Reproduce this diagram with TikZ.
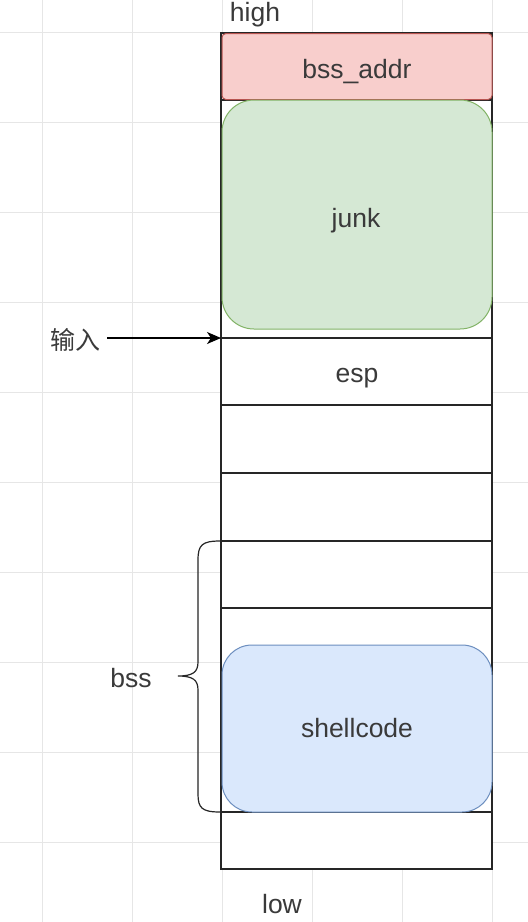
\documentclass[tikz,border=0pt]{standalone}
\usepackage{fontspec}
\setmainfont{Liberation Sans}
\newfontfamily\cjk{Noto Sans CJK SC}
\usetikzlibrary{arrows.meta}
\definecolor{gridc}{HTML}{E6E6E6}
\definecolor{txt}{HTML}{3A3A3A}
\definecolor{redf}{HTML}{F8CECC}\definecolor{redd}{HTML}{B85450}
\definecolor{greenf}{HTML}{D5E8D4}\definecolor{greend}{HTML}{82B366}
\definecolor{bluef}{HTML}{DAE8FC}\definecolor{blued}{HTML}{6C8EBF}
\tikzset{
  cell/.style={draw=black!85, line width=1.2pt, minimum width=271pt, inner sep=0pt, outer sep=0pt, fill=white},
  lbl/.style={text=txt, font=\fontsize{26.5}{30}\selectfont, inner sep=0pt, anchor=base},
  box/.style={line width=1pt, minimum width=270pt, inner sep=0pt, outer sep=0pt},
}
\begin{document}
\begin{tikzpicture}[x=1pt,y=-1pt]
\useasboundingbox (0,0) rectangle (528,922);
\fill[white] (0,0) rectangle (528,922);
% grid
\foreach \gx in {42,132,222,312,402,492} \draw[gridc, line width=0.8pt] (\gx,0) -- (\gx,922);
\foreach \gy in {32,122,212,302,392,482,572,662,752,842} \draw[gridc, line width=0.8pt] (0,\gy) -- (528,\gy);
% column cells
\node[cell, minimum height=67pt]  (r0) at (356.5,66.5) {};
\node[cell, minimum height=238pt] (r1) at (356.5,219) {};
\node[cell, minimum height=67pt]  (r2) at (356.5,371.5) {};
\node[cell, minimum height=68pt]  (r3) at (356.5,439) {};
\node[cell, minimum height=68pt]  (r4) at (356.5,507) {};
\node[cell, minimum height=67pt]  (r5) at (356.5,574.5) {};
\node[cell, minimum height=204pt] (r6) at (356.5,710) {};
\node[cell, minimum height=57pt]  (r7) at (356.5,840.5) {};
% coloured boxes
\node[box, fill=redf, draw=redd, rounded corners=4pt, minimum height=66pt] (addr) at (357,66.5) {};
\node[box, fill=greenf, draw=greend, rounded corners=32pt, minimum height=229pt] (junk) at (357,214.5) {};
\node[box, fill=bluef, draw=blued, rounded corners=30pt, minimum height=167pt] (shell) at (357,728.5) {};
% labels
\node[lbl] (addrt) at (357,78) {bss\_addr};
\node[lbl] (junkt) at (356,227) {junk};
\node[lbl] (shellt) at (357,737) {shellcode};
\node[lbl] (esp) at (357,382) {esp};
\node[lbl] (high) at (255,21) {high};
\node[lbl] (low) at (282,913) {low};
\node[lbl] (bss) at (131,687) {bss};
\node[lbl, font=\cjk\fontsize{25}{28}\selectfont] (inp) at (75,349) {输入};
% arrow
\coordinate (inpend) at (107,338);
\draw[line width=1.2pt, -{Stealth[length=14pt,width=12pt,inset=4pt]}] (inpend) -- (r2.north west);
% brace
\coordinate (bt) at (220,541);
\coordinate (bb) at (220,812);
\coordinate (tip) at (178,676);
\draw[line width=1.2pt, black!85] (bt) .. controls (202,541) and (198,545) .. (198,560) -- (198,662)
  .. controls (198,672) and (193,676) .. (tip)
  .. controls (193,676) and (198,680) .. (198,690) -- (198,794)
  .. controls (198,808) and (202,812) .. (bb);
\end{tikzpicture}
\end{document}
